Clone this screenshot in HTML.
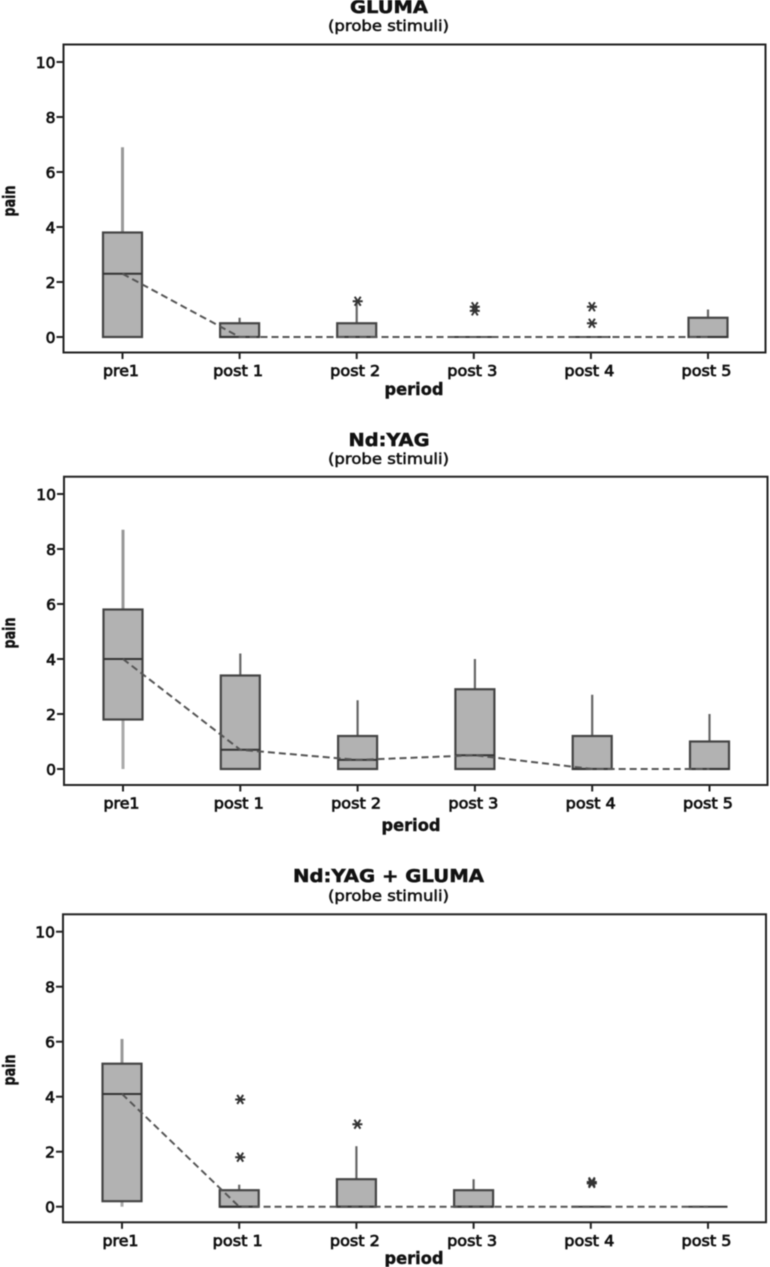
<!DOCTYPE html>
<html lang="en">
<head>
<meta charset="utf-8">
<title>Pain by period (probe stimuli)</title>
<style>
html,body{margin:0;padding:0;background:#fff;width:770px;height:1267px;overflow:hidden}
svg{display:block;filter:blur(0.5px)}
text{font-family:"DejaVu Sans","Liberation Sans",sans-serif;fill:#111}
.title{font-weight:700;font-size:18px;text-anchor:middle;stroke:#111;stroke-width:.5px}
.sub{font-size:15px;text-anchor:middle;fill:#111;font-weight:400;stroke:#111;stroke-width:.55px}
.tick{font-weight:400;font-size:15.5px;text-anchor:middle;fill:#111;stroke:#111;stroke-width:.75px}
.axis{font-weight:700;font-size:16.5px;text-anchor:middle;stroke:#111;stroke-width:.4px}
</style>
</head>
<body>
<svg id="chart" xmlns="http://www.w3.org/2000/svg" width="770" height="1267" viewBox="0 0 770 1267"></svg>
<script>
const periods = ["pre1", "post 1", "post 2", "post 3", "post 4", "post 5"];
const yTicks = [0, 2, 4, 6, 8, 10];

const glumaLow = [0, 0, 0, 0, 0, 0];
const glumaQ1 = [0, 0, 0, 0, 0, 0];
const glumaMedian = [2.3, 0, 0, 0, 0, 0];
const glumaQ3 = [3.8, 0.5, 0.5, 0, 0, 0.7];
const glumaHigh = [6.9, 0.7, 1.3, 0, 0, 1];
const glumaOutliers = [[], [], [1.3], [1.1, 0.95], [1.1, 0.5], []];

const yagLow = [0, 0, 0, 0, 0, 0];
const yagQ1 = [1.8, 0, 0, 0, 0, 0];
const yagMedian = [4, 0.7, 0.33, 0.5, 0, 0];
const yagQ3 = [5.8, 3.4, 1.2, 2.9, 1.2, 1];
const yagHigh = [8.7, 4.2, 2.5, 4, 2.7, 2];
const yagOutliers = [[], [], [], [], [], []];

const bothLow = [0, 0, 0, 0, 0, 0];
const bothQ1 = [0.2, 0, 0, 0, 0, 0];
const bothMedian = [4.1, 0, 0, 0, 0, 0];
const bothQ3 = [5.2, 0.6, 1, 0.6, 0, 0];
const bothHigh = [6.1, 0.8, 2.2, 1, 0, 0];
const bothOutliers = [[], [3.9, 1.8], [3], [], [0.9, 0.85], []];

const panels = [
  {key:"gluma", title:"GLUMA", titleLen:78, titleX:389, titleY:13, subY:31,
   left:63.5, right:765.5, top:44.5, bottom:352.5, y0:337, y10:62, x0:122.5, x5:708,
   periodX:414, periodY:395, painY:201,
   low:glumaLow, q1:glumaQ1, med:glumaMedian, q3:glumaQ3, high:glumaHigh, out:glumaOutliers},
  {key:"nd-yag", title:"Nd:YAG", titleLen:81, titleX:389, titleY:446, subY:464,
   left:64, right:767.5, top:476.7, bottom:785, y0:769, y10:494, x0:123, x5:709.5,
   periodX:411, periodY:831, painY:633,
   low:yagLow, q1:yagQ1, med:yagMedian, q3:yagQ3, high:yagHigh, out:yagOutliers},
  {key:"nd-yag-gluma", title:"Nd:YAG + GLUMA", titleLen:191, titleX:388.5, titleY:882, subY:901,
   left:63, right:766, top:914.3, bottom:1222.3, y0:1206.7, y10:931.7, x0:122, x5:708,
   periodX:414, periodY:1264, painY:1070,
   low:bothLow, q1:bothQ1, med:bothMedian, q3:bothQ3, high:bothHigh, out:bothOutliers}
];

const svg = document.getElementById("chart");
const NS = "http://www.w3.org/2000/svg";

function make(parent, tag, props, text) {
  const el = document.createElementNS(NS, tag);
  for (const k in props) el.setAttribute(k, props[k]);
  if (text !== undefined) el.textContent = text;
  parent.appendChild(el);
  return el;
}

panels.forEach(function (p) {
  const yScale = function (v) { return p.y0 + (p.y10 - p.y0) * v / 10; };
  const xScale = function (i) { return p.x0 + (p.x5 - p.x0) * i / (periods.length - 1); };

  const g = make(svg, "g", {});
  
  

  const title = make(g, "text", {class:"title", x:p.titleX, y:p.titleY, textLength:p.titleLen, lengthAdjust:"spacingAndGlyphs"}, p.title);
  
  

  const sub = make(g, "text", {class:"sub", x:388.5, y:p.subY, textLength:121, lengthAdjust:"spacingAndGlyphs"}, "(probe stimuli)");
  
  

  const frame = make(g, "rect", {x:p.left, y:p.top, width:p.right - p.left, height:p.bottom - p.top, fill:"#fff", stroke:"#222", "stroke-width":2});
  
  

  yTicks.forEach(function (t) {
    const y = yScale(t);
    const tick = make(g, "line", {x1:p.left - 7, x2:p.left, y1:y, y2:y, stroke:"#222", "stroke-width":2});
    
    
    const lab = make(g, "text", {class:"tick", x:p.left - 8, y:y + 6, style:"text-anchor:end"}, String(t));
    
    
  });

  periods.forEach(function (name, i) {
    const x = xScale(i);
    const tick = make(g, "line", {x1:x, x2:x, y1:p.bottom, y2:p.bottom + 6.5, stroke:"#222", "stroke-width":2});
    
    
    const lab = make(g, "text", {class:"tick", x:x - 1.5, y:p.bottom + 23.5, textLength:i === 0 ? 36 : 50, lengthAdjust:"spacingAndGlyphs"}, name);
    
    
  });

  const xt = make(g, "text", {class:"axis", x:p.periodX, y:p.periodY, textLength:59, lengthAdjust:"spacingAndGlyphs"}, "period");
  
  

  const yt = make(g, "text", {class:"axis", x:0, y:0, textLength:31, lengthAdjust:"spacingAndGlyphs", transform:"translate(15 " + p.painY + ") rotate(-90)"}, "pain");
  
  

  periods.forEach(function (name, i) {
    const x = xScale(i);
    const wColor = i === 0 ? "#999" : "#666";
    const wWidth = i === 0 ? 3 : 2.2;

    if (p.high[i] > p.q3[i]) {
      const wh = make(g, "line", {x1:x, x2:x, y1:yScale(p.high[i]), y2:yScale(p.q3[i]), stroke:wColor, "stroke-width":wWidth});
      
      
    }
    if (p.low[i] < p.q1[i]) {
      const wl = make(g, "line", {x1:x, x2:x, y1:yScale(p.q1[i]), y2:yScale(p.low[i]), stroke:"#aaa", "stroke-width":3});
      
      
    }

    const boxTop = yScale(p.q3[i]);
    const boxBot = yScale(p.q1[i]);
    const box = make(g, "rect", {x:x - 19.5, y:boxTop, width:39, height:boxBot - boxTop, fill:"#b2b2b2", stroke:"#444", "stroke-width":2.2});
    
    

    const med = make(g, "line", {x1:x - 19.5, x2:x + 19.5, y1:yScale(p.med[i]), y2:yScale(p.med[i]), stroke:"#333", "stroke-width":2});
    
    
  });

  const pts = p.med.map(function (m, i) { return xScale(i) + "," + yScale(m); }).join(" ");
  const conn = make(g, "polyline", {points:pts, fill:"none", stroke:"#555", "stroke-width":2, "stroke-dasharray":"7 4"});
  
  

  p.out.forEach(function (list, i) {
    list.forEach(function (v) {
      const cx = xScale(i) + 1;
      const cy = yScale(v);
      const star = make(g, "path", {d:"M" + (cx - 5) + " " + cy + "h10M" + (cx - 3) + " " + (cy - 4.5) + "l6 9M" + (cx + 3) + " " + (cy - 4.5) + "l-6 9", stroke:"#333", "stroke-width":2, fill:"none"});
      
      
    });
  });
});
</script>
</body>
</html>
